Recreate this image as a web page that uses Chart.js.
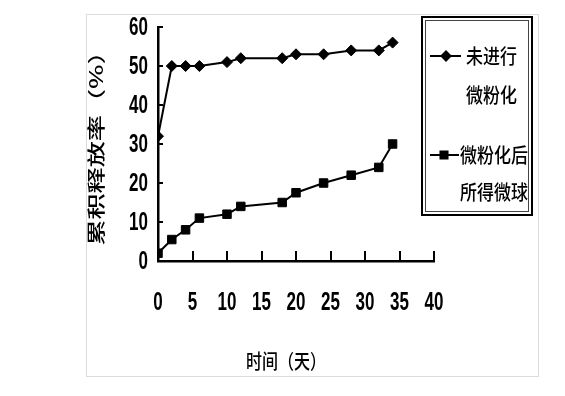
<!DOCTYPE html>
<html>
<head>
<meta charset="utf-8">
<script src="https://cdn.jsdelivr.net/npm/chart.js@4"></script>
<style>
  html, body { margin: 0; padding: 0; background: #fff; }
  #wrap { position: relative; width: 565px; height: 396px; }
  #frame { position: absolute; left: 86px; top: 14px; width: 451px; height: 361px; border: 1px solid #dcdcdc; }
  canvas { position: absolute; left: 0; top: 0; }
</style>
</head>
<body>
<div id="wrap">
  <div id="frame"></div>
  <canvas id="chart" width="565" height="396"></canvas>
</div>
<script>
'use strict';

// ── Data ──────────────────────────────────────────────────
const days         = [0, 2, 4, 6, 10, 12, 18, 20, 24, 28, 32, 34];
const unmilled     = [32, 50, 50, 50, 51, 52, 52, 53, 53, 54, 54, 56];
const microspheres = [2, 5.5, 8, 11, 12, 14, 15, 17.5, 20, 22, 24, 30];
const seriesNames  = [['未进行', '微粉化'], ['微粉化后', '所得微球']];
const xTitle = '时间（天）';
const yTitle = '累积释放率（%）';

const DIGIT_FONT = "bold 25px 'Liberation Sans', Arial, sans-serif";
const CJK = "'Noto Sans CJK SC', sans-serif";

// draw narrow (condensed) text at x,y
function narrowText(ctx, txt, x, y, align, sx) {
  ctx.save();
  ctx.translate(x, y);
  ctx.scale(sx, 1);
  ctx.textAlign = align;
  ctx.fillText(txt, 0, 0);
  ctx.restore();
}

// ── Inner ticks, tick labels, axis titles ─────────────────
const axisDecor = {
  id: 'axisDecor',
  beforeDatasetsDraw(chart) {
    const { ctx, chartArea: a, scales: { x, y } } = chart;
    ctx.save();
    ctx.strokeStyle = '#000';
    ctx.lineWidth = 2;
    x.ticks.forEach(t => {
      if (t.value === 0) return;
      const px = Math.round(x.getPixelForValue(t.value));
      ctx.beginPath();
      ctx.moveTo(px, a.bottom);
      ctx.lineTo(px, a.bottom - 10);
      ctx.stroke();
    });
    y.ticks.forEach(t => {
      if (t.value === 0) return;
      const py = Math.round(y.getPixelForValue(t.value));
      ctx.beginPath();
      ctx.moveTo(a.left, py);
      ctx.lineTo(a.left + 5, py);
      ctx.stroke();
    });

    // tick labels (condensed digits like the original)
    ctx.fillStyle = '#000';
    ctx.font = DIGIT_FONT;
    ctx.textBaseline = 'middle';
    x.ticks.forEach(t => {
      narrowText(ctx, String(t.value), x.getPixelForValue(t.value), 303, 'center', 0.68);
    });
    y.ticks.forEach(t => {
      narrowText(ctx, String(t.value), 148, y.getPixelForValue(t.value) + 1, 'right', 0.68);
    });
    ctx.restore();
  },
  afterDraw(chart) {
    const { ctx } = chart;
    ctx.save();
    ctx.fillStyle = '#000';
    ctx.textAlign = 'center';
    ctx.textBaseline = 'middle';
    // x title
    ctx.save();
    ctx.translate(286, 361);
    ctx.scale(1, 1.25);
    ctx.font = `500 16px ${CJK}`;
    ctx.fillText(xTitle, 0, 0);
    ctx.restore();
    // y title (rotated, stretched along its length)
    ctx.save();
    ctx.translate(96, 142);
    ctx.rotate(-Math.PI / 2);
    ctx.scale(1.45, 1);
    ctx.font = `500 18px ${CJK}`;
    ctx.fillText(yTitle, 0, 0);
    ctx.restore();
    ctx.restore();
  }
};

// ── Boxed legend ──────────────────────────────────────────
const boxLegend = {
  id: 'boxLegend',
  afterDraw(chart) {
    const { ctx } = chart;
    const L = 422, T = 17, R = 532, B = 215;
    ctx.save();
    ctx.strokeStyle = '#000';
    ctx.lineWidth = 2;
    ctx.strokeRect(L, T, R - L, B - T);
    ctx.lineWidth = 1;
    ctx.strokeStyle = '#444';
    ctx.strokeRect(L + 3.5, T + 3.5, R - L - 7, B - T - 7);

    const rows = [
      { y: 56, lx0: 430, lx1: 461, mx: 446, tx: 466, dy: 39 },
      { y: 155, lx0: 430, lx1: 459, mx: 444, tx: 460, dy: 37 }
    ];
    chart.data.datasets.forEach((ds, i) => {
      const r = rows[i];
      ctx.strokeStyle = '#000';
      ctx.lineWidth = 2;
      ctx.beginPath();
      ctx.moveTo(r.lx0, r.y);
      ctx.lineTo(r.lx1, r.y);
      ctx.stroke();
      ctx.fillStyle = '#000';
      Chart.helpers.drawPoint(ctx, {
        pointStyle: ds.pointStyle, radius: ds.pointRadius - 1, borderWidth: 1, rotation: 0
      }, r.mx, r.y);
      ctx.font = `500 17px ${CJK}`;
      ctx.textAlign = 'left';
      ctx.textBaseline = 'middle';
      seriesNames[i].forEach((line, k) => {
        ctx.save();
        ctx.translate(r.tx, r.y + k * r.dy);
        ctx.scale(1, 1.2);
        ctx.fillText(line, 0, 0);
        ctx.restore();
      });
    });
    ctx.restore();
  }
};

new Chart(document.getElementById('chart'), {
  type: 'line',
  data: {
    datasets: [
      {
        label: seriesNames[0].join(''),
        data: days.map((d, i) => ({ x: d, y: unmilled[i] })),
        borderColor: '#000',
        backgroundColor: '#000',
        borderWidth: 2,
        pointStyle: 'rectRot',
        pointRadius: 5.5,
        pointBorderWidth: 1,
        tension: 0
      },
      {
        label: seriesNames[1].join(''),
        data: days.map((d, i) => ({ x: d, y: microspheres[i] })),
        borderColor: '#000',
        backgroundColor: '#000',
        borderWidth: 2,
        pointStyle: 'rect',
        pointRadius: 6,
        pointBorderWidth: 1,
        tension: 0
      }
    ]
  },
  options: {
    responsive: false,
    animation: false,
    devicePixelRatio: 1,
    layout: { padding: { left: 0, top: 27, right: 131, bottom: 0 } },
    plugins: { legend: { display: false }, tooltip: { enabled: false } },
    scales: {
      x: {
        type: 'linear',
        min: 0, max: 40,
        grid: { display: false, drawTicks: false },
        border: { display: true, color: '#000', width: 2.5 },
        ticks: { stepSize: 5, display: false },
        afterFit: s => { s.height = 135; }
      },
      y: {
        min: 0, max: 60,
        grid: { display: false, drawTicks: false },
        border: { display: true, color: '#000', width: 2.5 },
        ticks: { stepSize: 10, display: false },
        afterFit: s => { s.width = 158; }
      }
    }
  },
  plugins: [axisDecor, boxLegend]
});
</script>
</body>
</html>
